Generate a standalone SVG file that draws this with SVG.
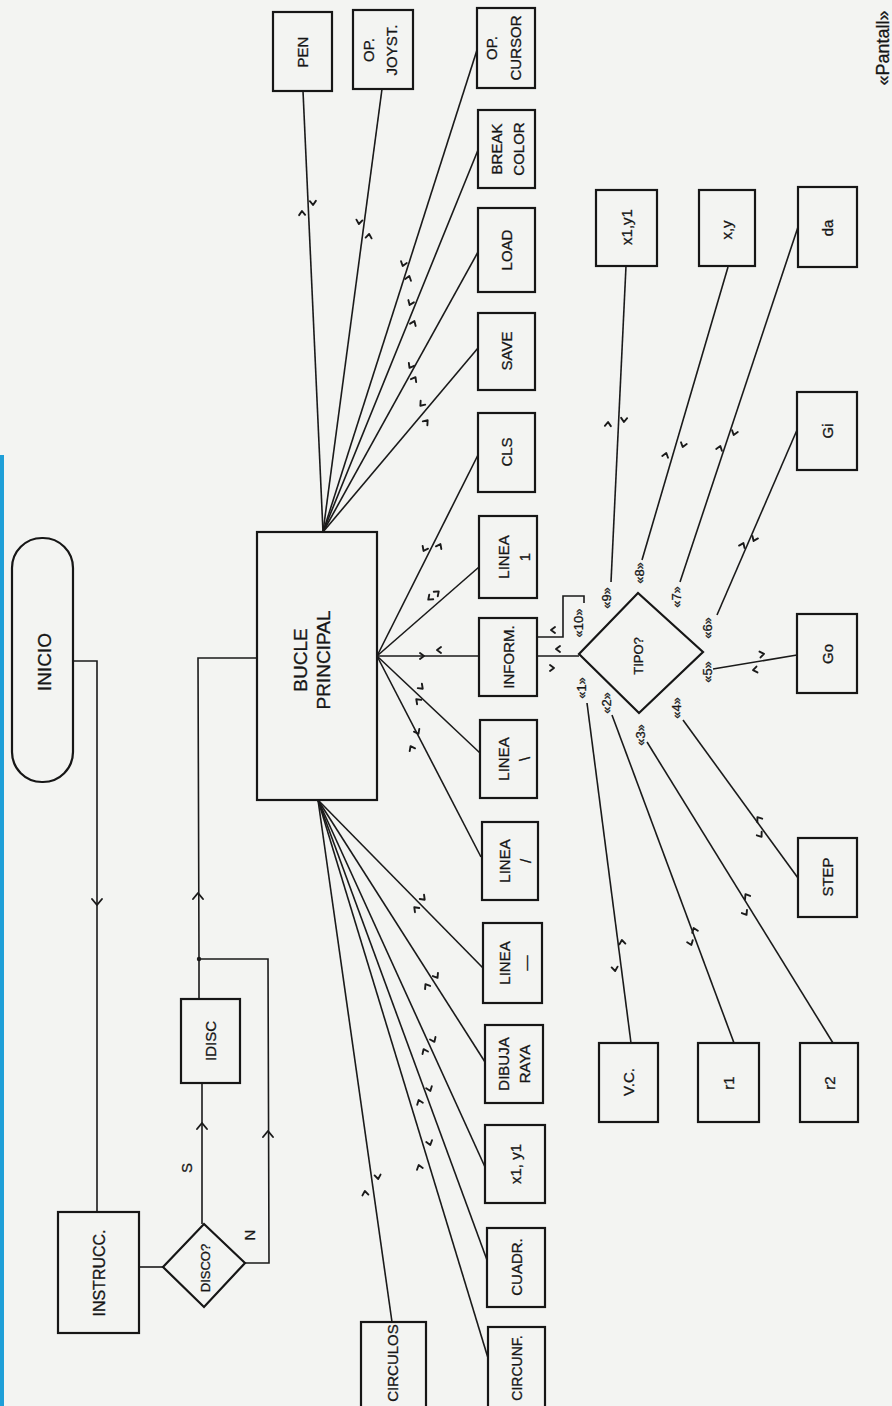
<svg xmlns="http://www.w3.org/2000/svg" xmlns:xlink="http://www.w3.org/1999/xlink" width="892" height="1406" viewBox="0 0 892 1406">
<style>
.bx{fill:none;stroke:#161616;stroke-width:2.2}
.ln{fill:none;stroke:#1a1a1a;stroke-width:1.6}
.mk{fill:none;stroke:#1a1a1a;stroke-width:1.9;stroke-linecap:round;stroke-linejoin:round}
.t{font-family:"Liberation Sans",Arial,sans-serif;font-size:15px;fill:#161616;stroke:#161616;stroke-width:0.3;text-anchor:middle}
.big{font-size:19px}
.sm{font-size:13px}
</style>
<defs>
<path id="m" class="mk" d="M-3,-3 L1,0 L-3,3"/>
<path id="ar" class="mk" d="M-6,-5 L0,0 L-6,5"/>
</defs>
<rect x="0" y="0" width="892" height="1406" fill="#f3f4f2"/>
<rect x="0" y="455" width="4" height="951" fill="#1e9fd8"/>

<g id="connectors">
  <polyline class="ln" points="73,661 97,661 97,1212"/>
  <line class="ln" x1="139" y1="1267" x2="163" y2="1267"/>
  <line class="ln" x1="202" y1="1224" x2="202" y2="1083"/>
  <polyline class="ln" points="199,999 199,959 198,658 257,658"/>
  <polyline class="ln" points="245,1263 269,1263 268,959 199,959"/>
  <circle cx="199" cy="959" r="2.2" fill="#1a1a1a"/>
  <line class="ln" x1="323" y1="532" x2="303" y2="91"/>
  <line class="ln" x1="323" y1="532" x2="382" y2="89"/>
  <line class="ln" x1="323" y1="532" x2="477" y2="50"/>
  <line class="ln" x1="323" y1="532" x2="478" y2="150"/>
  <line class="ln" x1="323" y1="532" x2="478" y2="252"/>
  <line class="ln" x1="323" y1="532" x2="478" y2="348"/>
  <line class="ln" x1="377" y1="656" x2="478" y2="455"/>
  <line class="ln" x1="377" y1="656" x2="479" y2="567"/>
  <line class="ln" x1="377" y1="656" x2="479" y2="656"/>
  <line class="ln" x1="377" y1="656" x2="480" y2="753"/>
  <line class="ln" x1="377" y1="656" x2="481" y2="857"/>
  <line class="ln" x1="318" y1="800" x2="483" y2="968"/>
  <line class="ln" x1="318" y1="800" x2="485" y2="1062"/>
  <line class="ln" x1="318" y1="800" x2="485" y2="1167"/>
  <line class="ln" x1="318" y1="800" x2="487" y2="1260"/>
  <line class="ln" x1="318" y1="800" x2="488" y2="1358"/>
  <line class="ln" x1="318" y1="800" x2="392" y2="1322"/>
  <line class="ln" x1="537" y1="656" x2="579" y2="656"/>
  <polyline class="ln" points="537,637 563,637 563,596 584,596 584,603"/>
  <line class="ln" x1="611" y1="582" x2="626" y2="266"/>
  <line class="ln" x1="642" y1="560" x2="728" y2="267"/>
  <line class="ln" x1="680" y1="582" x2="798" y2="227"/>
  <line class="ln" x1="717" y1="615" x2="797" y2="430"/>
  <line class="ln" x1="713" y1="669" x2="797" y2="655"/>
  <line class="ln" x1="683" y1="720" x2="798" y2="878"/>
  <line class="ln" x1="647" y1="742" x2="833" y2="1043"/>
  <line class="ln" x1="612" y1="715" x2="734" y2="1043"/>
  <line class="ln" x1="587" y1="703" x2="631" y2="1043"/>
  <use xlink:href="#ar" transform="translate(97,905) rotate(90)"/>
  <use xlink:href="#ar" transform="translate(198,893) rotate(-90)"/>
  <use xlink:href="#ar" transform="translate(202,1123) rotate(-90)"/>
  <use xlink:href="#ar" transform="translate(268,1131) rotate(-90)"/>
  <use xlink:href="#m" transform="translate(313,204) rotate(87.4)"/>
  <use xlink:href="#m" transform="translate(302,212) rotate(-92.6)"/>
  <use xlink:href="#m" transform="translate(359,223) rotate(97.6)"/>
  <use xlink:href="#m" transform="translate(369,235) rotate(-82.4)"/>
  <use xlink:href="#m" transform="translate(403,265) rotate(107.7)"/>
  <use xlink:href="#m" transform="translate(409,277) rotate(-72.3)"/>
  <use xlink:href="#m" transform="translate(410,304) rotate(112.1)"/>
  <use xlink:href="#m" transform="translate(414,322) rotate(-67.9)"/>
  <use xlink:href="#m" transform="translate(410,367) rotate(119)"/>
  <use xlink:href="#m" transform="translate(415,378) rotate(-61)"/>
  <use xlink:href="#m" transform="translate(421,405) rotate(130.1)"/>
  <use xlink:href="#m" transform="translate(427,421) rotate(-49.9)"/>
  <use xlink:href="#m" transform="translate(424,550) rotate(116.7)"/>
  <use xlink:href="#m" transform="translate(440,545) rotate(-63.3)"/>
  <use xlink:href="#m" transform="translate(429,599) rotate(138.3)"/>
  <use xlink:href="#m" transform="translate(438,592) rotate(-41.7)"/>
  <use xlink:href="#m" transform="translate(423,656) rotate(0)"/>
  <use xlink:href="#m" transform="translate(438,650) rotate(180)"/>
  <use xlink:href="#m" transform="translate(417,700) rotate(-136.4)"/>
  <use xlink:href="#m" transform="translate(422,688) rotate(43.6)"/>
  <use xlink:href="#m" transform="translate(411,747) rotate(-117.1)"/>
  <use xlink:href="#m" transform="translate(418,733) rotate(62.9)"/>
  <use xlink:href="#m" transform="translate(415,908) rotate(-134.3)"/>
  <use xlink:href="#m" transform="translate(424,899) rotate(45.7)"/>
  <use xlink:href="#m" transform="translate(426,985) rotate(-122.2)"/>
  <use xlink:href="#m" transform="translate(437,977) rotate(57.8)"/>
  <use xlink:href="#m" transform="translate(424,1050) rotate(-114.5)"/>
  <use xlink:href="#m" transform="translate(434,1041) rotate(65.5)"/>
  <use xlink:href="#m" transform="translate(419,1101) rotate(-110)"/>
  <use xlink:href="#m" transform="translate(430,1090) rotate(70)"/>
  <use xlink:href="#m" transform="translate(419,1166) rotate(-106.9)"/>
  <use xlink:href="#m" transform="translate(430,1144) rotate(73.1)"/>
  <use xlink:href="#m" transform="translate(365,1192) rotate(-98.1)"/>
  <use xlink:href="#m" transform="translate(378,1178) rotate(81.9)"/>
  <use xlink:href="#m" transform="translate(557,649) rotate(180)"/>
  <use xlink:href="#m" transform="translate(553,668) rotate(0)"/>
  <use xlink:href="#m" transform="translate(552,630) rotate(180)"/>
  <use xlink:href="#m" transform="translate(608,423) rotate(-87.3)"/>
  <use xlink:href="#m" transform="translate(624,421) rotate(92.7)"/>
  <use xlink:href="#m" transform="translate(666,454) rotate(-73.6)"/>
  <use xlink:href="#m" transform="translate(683,446) rotate(106.4)"/>
  <use xlink:href="#m" transform="translate(720,447) rotate(-71.8)"/>
  <use xlink:href="#m" transform="translate(734,434) rotate(108.2)"/>
  <use xlink:href="#m" transform="translate(743,544) rotate(-66.6)"/>
  <use xlink:href="#m" transform="translate(754,540) rotate(113.4)"/>
  <use xlink:href="#m" transform="translate(763,654) rotate(-9.5)"/>
  <use xlink:href="#m" transform="translate(754,670) rotate(170.5)"/>
  <use xlink:href="#m" transform="translate(758,818) rotate(-126)"/>
  <use xlink:href="#m" transform="translate(761,836) rotate(54)"/>
  <use xlink:href="#m" transform="translate(746,895) rotate(-121.8)"/>
  <use xlink:href="#m" transform="translate(746,914) rotate(58.2)"/>
  <use xlink:href="#m" transform="translate(694,929) rotate(-110.5)"/>
  <use xlink:href="#m" transform="translate(691,944) rotate(69.5)"/>
  <use xlink:href="#m" transform="translate(622,941) rotate(-97.4)"/>
  <use xlink:href="#m" transform="translate(615,970) rotate(82.6)"/>
  <text class="t sm" transform="translate(585.7,688) rotate(-90)">«1»</text>
  <text class="t sm" transform="translate(610.7,703) rotate(-90)">«2»</text>
  <text class="t sm" transform="translate(644.7,735) rotate(-90)">«3»</text>
  <text class="t sm" transform="translate(680.7,708) rotate(-90)">«4»</text>
  <text class="t sm" transform="translate(711.7,672) rotate(-90)">«5»</text>
  <text class="t sm" transform="translate(711.7,628) rotate(-90)">«6»</text>
  <text class="t sm" transform="translate(680.7,597) rotate(-90)">«7»</text>
  <text class="t sm" transform="translate(643.7,573) rotate(-90)">«8»</text>
  <text class="t sm" transform="translate(610.7,598) rotate(-90)">«9»</text>
  <text class="t sm" transform="translate(582.7,623) rotate(-90)">«10»</text>
  <text class="t" transform="translate(192,1168) rotate(-90)">S</text>
  <text class="t" transform="translate(255,1235) rotate(-90)">N</text>
</g>

<g id="inicio">
  <rect class="bx" x="12" y="538" width="61" height="244" rx="30" ry="30"/>
  <text class="t big" transform="translate(51,662) rotate(-90)">INICIO</text>
</g>
<g id="instrucc">
  <rect class="bx" x="58" y="1212" width="81" height="121"/>
  <text class="t" style="font-size:16px" transform="translate(105,1273) rotate(-90)">INSTRUCC.</text>
</g>
<g id="disco">
  <polygon class="bx" points="163,1267 204,1224 245,1263 204,1307"/>
  <text class="t sm" transform="translate(210,1268) rotate(-90)">DISCO?</text>
</g>
<g id="idisc">
  <rect class="bx" x="181" y="999" width="59" height="84"/>
  <text class="t" transform="translate(216,1041) rotate(-90)">IDISC</text>
</g>
<g id="bucle">
  <rect class="bx" x="257" y="532" width="120" height="268"/>
  <text class="t big" transform="translate(307,660) rotate(-90)"><tspan x="0" y="0">BUCLE</tspan><tspan x="0" y="23">PRINCIPAL</tspan></text>
</g>
<g id="pen">
  <rect class="bx" x="273" y="12" width="59" height="79"/>
  <text class="t" transform="translate(308,52) rotate(-90)">PEN</text>
</g>
<g id="opjoyst">
  <rect class="bx" x="353" y="10" width="60" height="79"/>
  <text class="t" transform="translate(373.5,50) rotate(-90)"><tspan x="0" y="0">OP.</tspan><tspan x="0" y="23">JOYST.</tspan></text>
</g>
<g id="opcursor">
  <rect class="bx" x="477" y="8" width="58" height="80"/>
  <text class="t" transform="translate(497,48) rotate(-90)"><tspan x="0" y="0">OP.</tspan><tspan x="0" y="24">CURSOR</tspan></text>
</g>
<g id="breakcolor">
  <rect class="bx" x="478" y="110" width="57" height="78"/>
  <text class="t" transform="translate(501.5,149) rotate(-90)"><tspan x="0" y="0">BREAK</tspan><tspan x="0" y="22">COLOR</tspan></text>
</g>
<g id="load">
  <rect class="bx" x="478" y="208" width="57" height="84"/>
  <text class="t" transform="translate(512,250) rotate(-90)">LOAD</text>
</g>
<g id="save">
  <rect class="bx" x="478" y="313" width="57" height="77"/>
  <text class="t" transform="translate(512,351) rotate(-90)">SAVE</text>
</g>
<g id="cls">
  <rect class="bx" x="478" y="413" width="57" height="79"/>
  <text class="t" transform="translate(512,452) rotate(-90)">CLS</text>
</g>
<g id="linea1">
  <rect class="bx" x="479" y="516" width="58" height="82"/>
  <text class="t" transform="translate(509,557) rotate(-90)"><tspan x="0" y="0">LINEA</tspan><tspan x="0" y="21">1</tspan></text>
</g>
<g id="inform">
  <rect class="bx" x="479" y="618" width="58" height="78"/>
  <text class="t" transform="translate(513.5,657) rotate(-90)">INFORM.</text>
</g>
<g id="lineabackslash">
  <rect class="bx" x="480" y="720" width="57" height="78"/>
  <text class="t" transform="translate(509,759) rotate(-90)"><tspan x="0" y="0">LINEA</tspan><tspan x="0" y="21">\</tspan></text>
</g>
<g id="lineaslash">
  <rect class="bx" x="482" y="822" width="56" height="78"/>
  <text class="t" transform="translate(510,861) rotate(-90)"><tspan x="0" y="0">LINEA</tspan><tspan x="0" y="21">/</tspan></text>
</g>
<g id="lineadash">
  <rect class="bx" x="483" y="923" width="59" height="80"/>
  <text class="t" transform="translate(510,963) rotate(-90)"><tspan x="0" y="0">LINEA</tspan><tspan x="0" y="21">—</tspan></text>
</g>
<g id="dibujaraya">
  <rect class="bx" x="485" y="1025" width="58" height="78"/>
  <text class="t" transform="translate(508.5,1064) rotate(-90)"><tspan x="0" y="0">DIBUJA</tspan><tspan x="0" y="21.5">RAYA</tspan></text>
</g>
<g id="x1y1b">
  <rect class="bx" x="485" y="1125" width="60" height="78"/>
  <text class="t" transform="translate(520.5,1164) rotate(-90)">x1, y1</text>
</g>
<g id="cuadr">
  <rect class="bx" x="487" y="1228" width="58" height="79"/>
  <text class="t" transform="translate(521.5,1267) rotate(-90)">CUADR.</text>
</g>
<g id="circunf">
  <rect class="bx" x="488" y="1327" width="57" height="100"/>
  <text class="t" style="font-size:14px" transform="translate(521.5,1368) rotate(-90)">CIRCUNF.</text>
</g>
<g id="circulos">
  <rect class="bx" x="361" y="1322" width="65" height="100"/>
  <text class="t" transform="translate(398,1363) rotate(-90)">CIRCULOS</text>
</g>
<g id="tipo">
  <polygon class="bx" points="579,654 638,593 703,652 639,713"/>
  <text class="t sm" transform="translate(643,656) rotate(-90)">TIPO?</text>
</g>
<g id="x1y1t">
  <rect class="bx" x="596" y="190" width="61" height="76"/>
  <text class="t" transform="translate(632,227) rotate(-90)">x1,y1</text>
</g>
<g id="xy">
  <rect class="bx" x="699" y="190" width="56" height="76"/>
  <text class="t" transform="translate(732,230) rotate(-90)">x,y</text>
</g>
<g id="da">
  <rect class="bx" x="798" y="187" width="59" height="80"/>
  <text class="t" transform="translate(833,228) rotate(-90)">da</text>
</g>
<g id="gi">
  <rect class="bx" x="797" y="392" width="60" height="78"/>
  <text class="t" transform="translate(833,431) rotate(-90)">Gi</text>
</g>
<g id="go">
  <rect class="bx" x="797" y="614" width="60" height="79"/>
  <text class="t" transform="translate(833,654) rotate(-90)">Go</text>
</g>
<g id="step">
  <rect class="bx" x="798" y="838" width="59" height="79"/>
  <text class="t" transform="translate(833,877) rotate(-90)">STEP</text>
</g>
<g id="vc">
  <rect class="bx" x="599" y="1043" width="59" height="79"/>
  <text class="t" transform="translate(634,1082) rotate(-90)">V.C.</text>
</g>
<g id="r1">
  <rect class="bx" x="698" y="1043" width="61" height="79"/>
  <text class="t" transform="translate(734,1083) rotate(-90)">r1</text>
</g>
<g id="r2">
  <rect class="bx" x="800" y="1043" width="58" height="79"/>
  <text class="t" transform="translate(834.5,1083) rotate(-90)">r2</text>
</g>
<g id="caption">
  <text class="t" style="font-size:18px" transform="translate(889,48) rotate(-90)">«Pantall»</text>
</g>
</svg>
